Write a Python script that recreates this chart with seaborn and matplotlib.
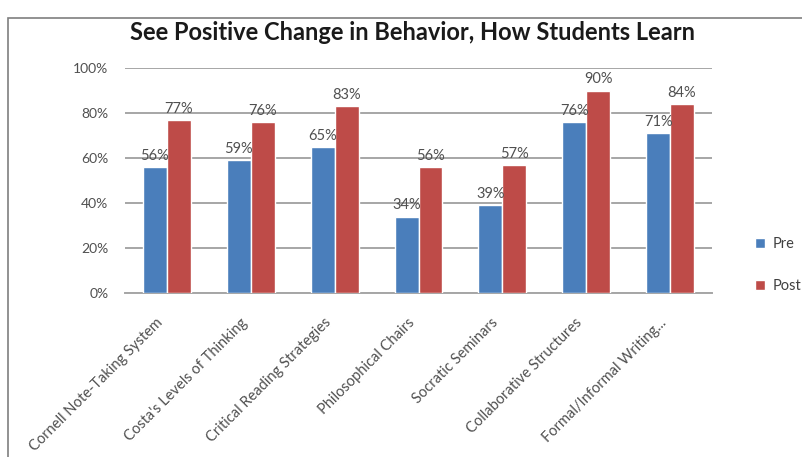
import matplotlib
matplotlib.use("Agg")
import matplotlib.pyplot as plt
import matplotlib.transforms as mtransforms
import seaborn as sns
import pandas as pd
from matplotlib.patches import Rectangle
from matplotlib.ticker import FuncFormatter, MultipleLocator

categories = ["Cornell Note-Taking System", "Costa's Levels of Thinking",
              "Critical Reading Strategies", "Philosophical Chairs",
              "Socratic Seminars", "Collaborative Structures",
              "Formal/Informal Writing..."]
pre = [56, 59, 65, 34, 39, 76, 71]
post = [77, 76, 83, 56, 57, 90, 84]
series = ["Pre", "Post"]
title = "See Positive Change in Behavior, How Students Learn"

df = pd.DataFrame({
    "category": categories * 2,
    "value": pre + post,
    "series": ["Pre"] * len(pre) + ["Post"] * len(post),
})

sns.set_theme(style="white")
plt.rcParams['font.family'] = ['Lato', 'DejaVu Sans']

fig = plt.figure(figsize=(8.02, 4.57), dpi=100)
ax = fig.add_axes([125/802, 1-293/457, (712-125)/802, (293-68)/457])

palette = {"Pre": "#4A7EBB", "Post": "#BE4B48"}
sns.barplot(data=df, x="category", y="value", hue="series", hue_order=series,
            palette=palette, width=0.57, ax=ax, saturation=1, legend=True,
            zorder=3)

for cont in ax.containers:
    ax.bar_label(cont, labels=[f"{int(round(v))}%" for v in cont.datavalues],
                 padding=3, fontsize=10.5, color="#505050")

ax.set_ylim(0, 100)
ax.yaxis.set_major_locator(MultipleLocator(20))
ax.yaxis.set_major_formatter(FuncFormatter(lambda v, p: f"{int(v)}%"))
ax.grid(axis="y", color="#A6A6A6", linewidth=1.4, zorder=0)
ax.set_axisbelow(True)
for s in ["top", "right", "left"]:
    ax.spines[s].set_visible(False)
ax.spines["bottom"].set_color("#A6A6A6")
ax.spines["bottom"].set_linewidth(1.4)
ax.set_xlabel("")
ax.set_ylabel("")
ax.tick_params(axis="y", labelsize=10, labelcolor="#505050", length=0, pad=12)
ax.tick_params(axis="x", labelsize=10.5, labelcolor="#505050", length=0, pad=12)
offset = mtransforms.ScaledTranslation(-11/100, -6/100, fig.dpi_scale_trans)
for lab in ax.get_xticklabels():
    lab.set_rotation(45)
    lab.set_ha("right")
    lab.set_rotation_mode("anchor")
    lab.set_transform(lab.get_transform() + offset)

leg = ax.legend(loc="center left", bbox_to_anchor=(742/802, 1-265/457),
                bbox_transform=fig.transFigure, frameon=False, fontsize=10.5,
                labelspacing=1.9, handlelength=0.7, handleheight=0.7,
                handletextpad=0.5)
for t in leg.get_texts():
    t.set_color("#404040")

fig.text(412/802, 1-32/457, title, ha="center", va="center",
         fontsize=17, fontweight="bold", color="#1a1a1a")

fig.patches.append(Rectangle((8/802, -0.05), 1.0, 1-18/457+0.05,
                             transform=fig.transFigure, fill=False,
                             edgecolor="#7F7F7F", linewidth=1.2))

fig.savefig("out.png", dpi=100)
